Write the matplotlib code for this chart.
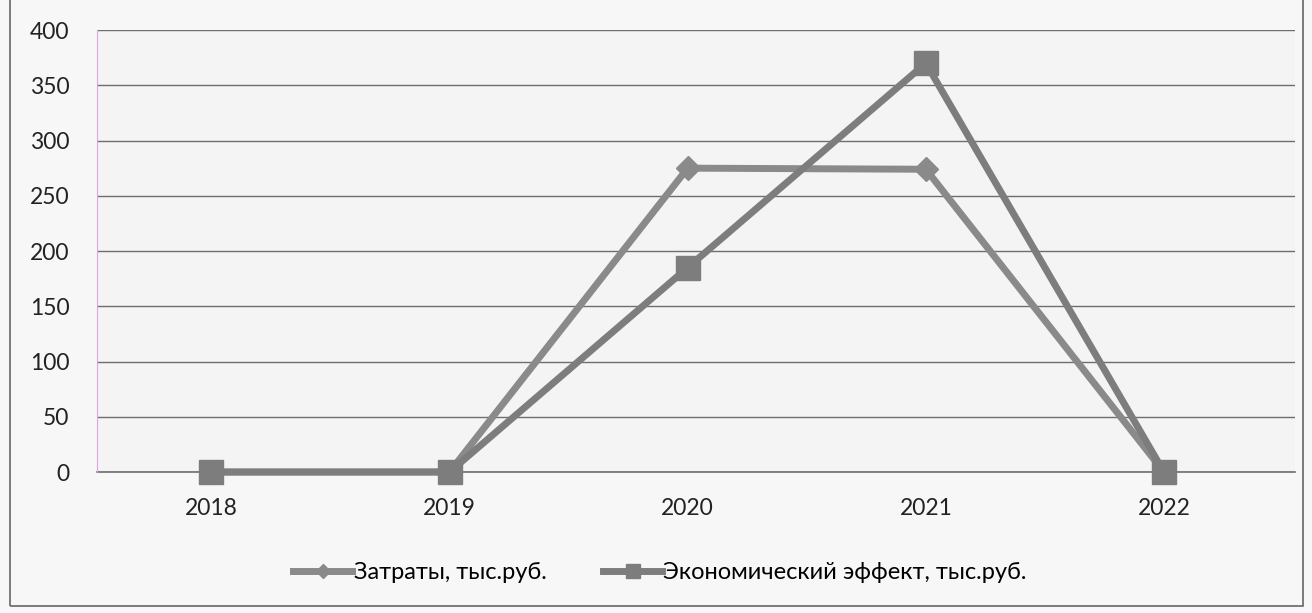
import matplotlib
matplotlib.use('Agg')
import matplotlib.pyplot as plt
from matplotlib.patches import Rectangle

years = ["2018", "2019", "2020", "2021", "2022"]
costs = [0, 0, 275, 274, 0]
effect = [0, 0, 185, 370, 0]
y_ticks = [0, 50, 100, 150, 200, 250, 300, 350, 400]

plt.rcParams['font.family'] = ['Lato', 'DejaVu Sans']

fig = plt.figure(figsize=(13.12, 6.13), dpi=100)
fig.patch.set_facecolor('#f7f7f7')
ax = fig.add_axes([0.074, 0.23, 0.913, 0.721])
ax.set_facecolor('#f4f4f4')

x = range(len(years))
ax.plot(x, costs, color='#8a8a8a', lw=5, marker='D', ms=12, label='Затраты, тыс.руб.',
        zorder=3, clip_on=False)
ax.plot(x, effect, color='#7d7d7d', lw=5, marker='s', ms=17, label='Экономический эффект, тыс.руб.',
        zorder=3, clip_on=False)

ax.set_xlim(-0.48, 4.55)
ax.set_ylim(0, 400)
ax.set_yticks(y_ticks)
ax.set_xticks(list(x))
ax.set_xticklabels(years)
ax.grid(True, axis='y', color='#6e6e6e', lw=1)
ax.axhline(0, color='#6e6e6e', lw=1.2, zorder=1, clip_on=False)
ax.set_axisbelow(True)
for s in ['top', 'right', 'bottom']:
    ax.spines[s].set_visible(False)
ax.spines['left'].set_color('#d9a6d9')
ax.tick_params(axis='both', length=0, labelsize=16.5, colors='#222222')
ax.tick_params(axis='y', pad=20)
ax.tick_params(axis='x', pad=19)

ax.legend(loc='upper center', bbox_to_anchor=(0.47, -0.155), ncol=2, frameon=False,
          fontsize=17, handlelength=2.5, columnspacing=2.4, handletextpad=0.05,
          markerscale=0.6)

fig.add_artist(Rectangle((0.008, 0.012), 0.985, 1.2, transform=fig.transFigure,
                         fill=False, edgecolor='#666666', lw=1.2))

fig.savefig('out.png', dpi=100)
